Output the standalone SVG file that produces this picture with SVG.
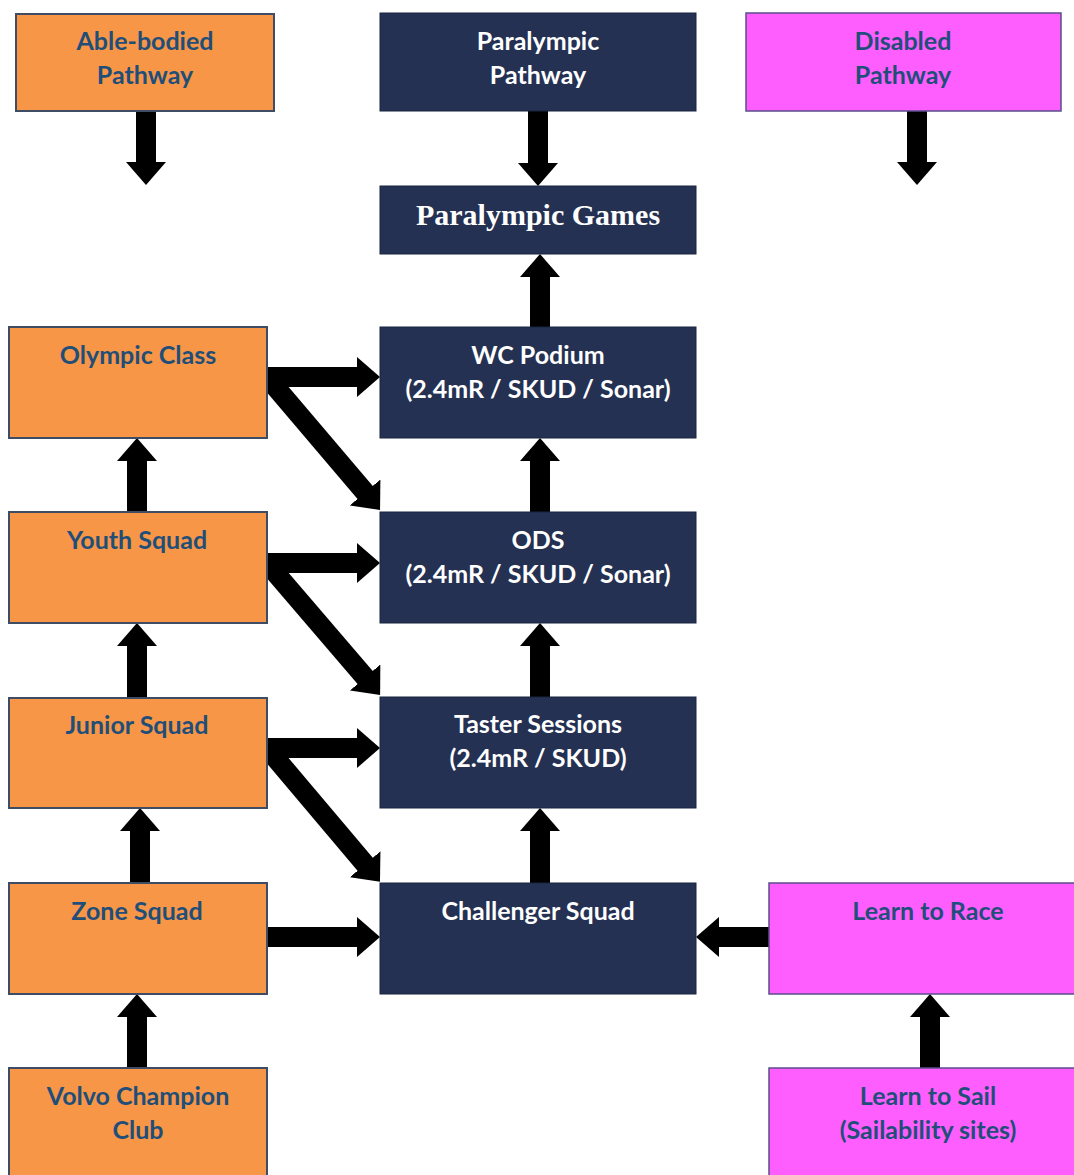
<svg xmlns="http://www.w3.org/2000/svg" width="1074" height="1175" viewBox="0 0 1074 1175">
<style>
.or{fill:#F79646;stroke:#3E4C66;stroke-width:2}
.nv{fill:#243152;stroke:#1A2440;stroke-width:1}
.mg{fill:#FF5EFF;stroke:#5B4E8C;stroke-width:1.5}
.t{font-family:Lato,"Open Sans","Liberation Sans",sans-serif;font-weight:bold;font-size:25px;text-anchor:middle}
.tb{fill:#1F4E79}
.tw{fill:#FFFFFF}
.ts{font-family:"Liberation Serif","Times New Roman",serif;font-weight:bold;font-size:30px;text-anchor:middle;fill:#FFFFFF}
.c line{stroke:#000;stroke-width:20;marker-end:url(#ah)}
</style>
<defs>
<marker id="ah" markerUnits="strokeWidth" markerWidth="1.15" markerHeight="2" viewBox="0 0 23 40" refX="1" refY="20" orient="auto">
<path d="M0,0 L23,20 L0,40 z" fill="#000"/>
</marker>
</defs>
<rect width="1074" height="1175" fill="#FFFFFF"/>
<g id="connectors" class="c">
<line x1="146" y1="111" x2="146" y2="163"/>
<line x1="538" y1="111" x2="538" y2="164"/>
<line x1="917" y1="111" x2="917" y2="163"/>
<line x1="540" y1="327" x2="540" y2="276"/>
<line x1="267" y1="377" x2="358" y2="377"/>
<line x1="267" y1="377" x2="365.8" y2="493.2"/>
<line x1="540" y1="512" x2="540" y2="460"/>
<line x1="137" y1="512" x2="137" y2="460"/>
<line x1="267" y1="563" x2="358" y2="563"/>
<line x1="267" y1="563" x2="365.8" y2="678.2"/>
<line x1="540" y1="697" x2="540" y2="645"/>
<line x1="137" y1="698" x2="137" y2="645"/>
<line x1="267" y1="748" x2="358" y2="748"/>
<line x1="267" y1="748" x2="365.8" y2="865"/>
<line x1="540" y1="883" x2="540" y2="830"/>
<line x1="140" y1="883" x2="140" y2="830"/>
<line x1="267" y1="937" x2="358" y2="937"/>
<line x1="137" y1="1068" x2="137" y2="1016"/>
<line x1="769" y1="937" x2="718" y2="937"/>
<line x1="930" y1="1068" x2="930" y2="1016"/>
</g>
<g id="able-bodied"><rect class="or" x="16" y="14" width="258" height="97"/><text class="t tb" x="145" y="50">Able-bodied</text><text class="t tb" x="145" y="84">Pathway</text></g>
<g id="paralympic-pathway"><rect class="nv" x="380" y="13" width="316" height="98"/><text class="t tw" x="538" y="50">Paralympic</text><text class="t tw" x="538" y="84">Pathway</text></g>
<g id="disabled"><rect class="mg" x="746" y="13" width="315" height="98"/><text class="t tb" x="903" y="50">Disabled</text><text class="t tb" x="903" y="84">Pathway</text></g>
<g id="paralympic-games"><rect class="nv" x="380" y="186" width="316" height="68"/><text class="ts" x="538" y="225">Paralympic Games</text></g>
<g id="olympic-class"><rect class="or" x="9" y="327" width="258" height="111"/><text class="t tb" x="138" y="364">Olympic Class</text></g>
<g id="wc-podium"><rect class="nv" x="380" y="327" width="316" height="111"/><text class="t tw" x="538" y="364">WC Podium</text><text class="t tw" x="538" y="398">(2.4mR / SKUD / Sonar)</text></g>
<g id="youth-squad"><rect class="or" x="9" y="512" width="258" height="111"/><text class="t tb" x="137" y="549">Youth Squad</text></g>
<g id="ods"><rect class="nv" x="380" y="512" width="316" height="111"/><text class="t tw" x="538" y="549">ODS</text><text class="t tw" x="538" y="583">(2.4mR / SKUD / Sonar)</text></g>
<g id="junior-squad"><rect class="or" x="9" y="698" width="258" height="110"/><text class="t tb" x="137" y="734">Junior Squad</text></g>
<g id="taster-sessions"><rect class="nv" x="380" y="697" width="316" height="111"/><text class="t tw" x="538" y="733">Taster Sessions</text><text class="t tw" x="538" y="767">(2.4mR / SKUD)</text></g>
<g id="zone-squad"><rect class="or" x="9" y="883" width="258" height="111"/><text class="t tb" x="137" y="920">Zone Squad</text></g>
<g id="challenger-squad"><rect class="nv" x="380" y="883" width="316" height="111"/><text class="t tw" x="538" y="920">Challenger Squad</text></g>
<g id="learn-to-race"><rect class="mg" x="769" y="883" width="310" height="111"/><text class="t tb" x="928" y="920">Learn to Race</text></g>
<g id="volvo-champion-club"><rect class="or" x="9" y="1068" width="258" height="112"/><text class="t tb" x="138" y="1105">Volvo Champion</text><text class="t tb" x="138" y="1139">Club</text></g>
<g id="learn-to-sail"><rect class="mg" x="769" y="1068" width="310" height="112"/><text class="t tb" x="928" y="1105">Learn to Sail</text><text class="t tb" x="928" y="1139">(Sailability sites)</text></g>
</svg>
